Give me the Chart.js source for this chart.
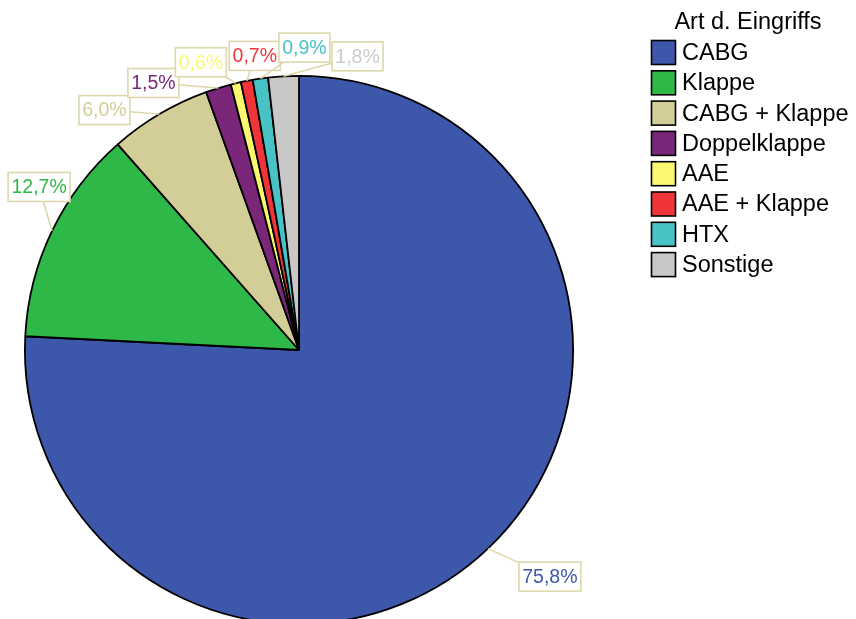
<!DOCTYPE html>
<html>
<head>
<meta charset="utf-8">
<script src="https://cdn.jsdelivr.net/npm/chart.js@4"></script>
<style>
  html, body { margin: 0; padding: 0; background: #fff; overflow: hidden; }
  #wrap { width: 856px; height: 700px; }
</style>
</head>
<body>
<div id="wrap"><canvas id="myChart" width="856" height="700"></canvas></div>
<script>
// Data
const legendTitle = 'Art d. Eingriffs';
const categories = ['CABG', 'Klappe', 'CABG + Klappe', 'Doppelklappe', 'AAE', 'AAE + Klappe', 'HTX', 'Sonstige'];
const percents = [75.8, 12.7, 6.0, 1.5, 0.6, 0.7, 0.9, 1.8];

// Styles
const sliceColors = ['#3d58ab', '#2eb847', '#d3ce97', '#7a2779', '#fbf870', '#ef343a', '#48c2c5', '#c8c8c8'];
const labelColors = ['#3d58ab', '#2eb847', '#d3ce97', '#7a2779', '#fbf870', '#ef343a', '#48c2c5', '#cccccc'];
const boxColor = '#dcd8ac';
const fontFamily = '"Liberation Sans", Arial, sans-serif';
// offset of each percent box from the outer edge of its slice (px)
const labelOffsets = [[62, 28], [-13, -44], [-55, -4], [-65, -5], [-35, -21], [8, -25], [44, -31], [74, -20]];

const fmt = v => v.toFixed(1).replace('.', ',') + '%';

// Boxed percent labels with leader lines
const sliceLabels = {
  id: 'sliceLabels',
  afterDatasetsDraw(chart) {
    const ctx = chart.ctx;
    const arcs = chart.getDatasetMeta(0).data;
    ctx.save();
    ctx.font = '19.5px ' + fontFamily;
    ctx.textAlign = 'center';
    ctx.textBaseline = 'middle';
    arcs.forEach((arc, i) => {
      const p = arc.getProps(['x', 'y', 'startAngle', 'endAngle', 'outerRadius'], true);
      const mid = (p.startAngle + p.endAngle) / 2;
      const ax = p.x + Math.cos(mid) * p.outerRadius;
      const ay = p.y + Math.sin(mid) * p.outerRadius;
      const bx = ax + labelOffsets[i][0];
      const by = ay + labelOffsets[i][1];
      const text = fmt(percents[i]);
      const w = Math.round(ctx.measureText(text).width + 7);
      const h = 29;
      ctx.strokeStyle = boxColor;
      ctx.lineWidth = 1.6;
      ctx.beginPath();
      ctx.moveTo(ax, ay);
      ctx.lineTo(bx, by);
      ctx.stroke();
      ctx.fillStyle = '#fff';
      ctx.fillRect(bx - w / 2, by - h / 2, w, h);
      ctx.strokeRect(bx - w / 2, by - h / 2, w, h);
      ctx.fillStyle = labelColors[i];
      ctx.fillText(text, bx, by + 1);
    });
    ctx.restore();
  }
};

// Legend on the right
const sideLegend = {
  id: 'sideLegend',
  afterDraw(chart) {
    const ctx = chart.ctx;
    ctx.save();
    ctx.font = '23.5px ' + fontFamily;
    ctx.textBaseline = 'middle';
    ctx.fillStyle = '#000';
    ctx.textAlign = 'center';
    ctx.fillText(legendTitle, 748, 23);
    ctx.textAlign = 'left';
    ctx.lineWidth = 1.6;
    ctx.strokeStyle = '#000';
    chart.data.labels.forEach((label, i) => {
      const top = 40.5 + i * 30.3;
      ctx.fillStyle = sliceColors[i];
      ctx.fillRect(651.5, top, 24, 24);
      ctx.strokeRect(651.5, top, 24, 24);
      ctx.fillStyle = '#000';
      ctx.fillText(label, 682, top + 13);
    });
    ctx.restore();
  }
};

const ctx = document.getElementById('myChart').getContext('2d');
new Chart(ctx, {
  type: 'pie',
  data: {
    labels: categories,
    datasets: [{
      data: percents,
      backgroundColor: sliceColors,
      borderColor: '#000',
      borderWidth: 1.8
    }]
  },
  options: {
    responsive: false,
    animation: false,
    layout: {
      padding: { left: 24, top: 75, right: 282, bottom: 75 }
    },
    plugins: {
      legend: { display: false },
      tooltip: { enabled: false }
    }
  },
  plugins: [sliceLabels, sideLegend]
});
</script>
</body>
</html>
